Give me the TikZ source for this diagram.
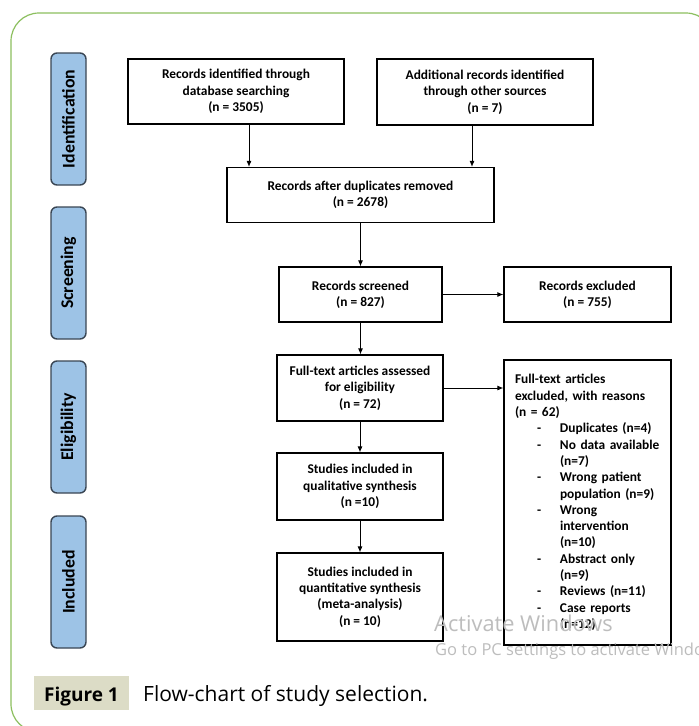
\documentclass[tikz,border=0pt]{standalone}
\usepackage{fontspec}
\setmainfont{Carlito}
\newfontfamily\capfont{Open Sans}
\usetikzlibrary{arrows.meta,positioning,calc}
\definecolor{framegreen}{HTML}{8CBF5F}
\definecolor{phaseblue}{HTML}{9DC3E6}
\definecolor{phaseline}{HTML}{3A4654}
\definecolor{capbg}{HTML}{DCDCC6}
\definecolor{wmgray}{HTML}{BDBDBD}
\tikzset{
  flowbox/.style={draw=black, line width=1.1pt, align=center, font=\fontsize{13.4}{16.3}\selectfont\bfseries, inner sep=0pt},
  phasebox/.style={draw=phaseline, line width=1.4pt, fill=phaseblue, rounded corners=6pt, rotate=90, minimum width=132pt, minimum height=35pt, inner sep=0pt, font=\fontsize{17.8}{20}\selectfont\bfseries},
  arr/.style={line width=1pt, -{Latex[length=6pt,width=5pt]}},
}
\begin{document}
\begin{tikzpicture}[x=1pt,y=-1pt]
\useasboundingbox (0,0) rectangle (699,726);
\fill[white] (0,0) rectangle (699,726);
% frame
\draw[framegreen, line width=1.2pt, rounded corners=28pt] (11,13) rectangle (714,732);
% phase labels
\node[phasebox] (ph1) at (68.5,119) {Identification};
\node[phasebox] (ph2) at (68.5,273) {Screening};
\node[phasebox] (ph3) at (68.5,427) {Eligibility};
\node[phasebox] (ph4) at (68.5,582) {Included};
% boxes
\node[flowbox, minimum width=216pt, minimum height=65pt] (b1) at (236,91.5) {Records identified through\\database searching\\(n = 3505)};
\node[flowbox, minimum width=216pt, minimum height=66pt] (b2) at (485,92) {Additional records identified\\through other sources\\(n = 7)};
\node[flowbox, minimum width=267pt, minimum height=55pt] (b3) at (360.5,195) {Records after duplicates removed\\(n = 2678)};
\node[flowbox, minimum width=163pt, minimum height=55pt] (b4) at (360.5,294.5) {Records screened\\(n = 827)};
\node[flowbox, minimum width=167pt, minimum height=55pt] (b5) at (587.5,294.5) {Records excluded\\(n = 755)};
\node[flowbox, minimum width=166pt, minimum height=66pt] (b6) at (360,388) {Full-text articles assessed\\for eligibility\\(n = 72)};
\node[flowbox, minimum width=166pt, minimum height=67pt] (b8) at (360,486.5) {Studies included in\\qualitative synthesis\\(n =10)};
\node[flowbox, minimum width=166pt, minimum height=88pt] (b9) at (360,597) {Studies included in\\quantitative synthesis\\(meta-analysis)\\(n = 10)};
\node[flowbox, minimum width=167pt, minimum height=285pt, align=left, text width=145pt] (b7) at (587.5,502.5) {Full-text articles\\
excluded, with reasons\\
(n = 62)\\
\hspace*{22pt}\makebox[23pt][l]{-}Duplicates (n=4)\\
\hspace*{22pt}\makebox[23pt][l]{-}No data available\\
\hspace*{45pt}(n=7)\\
\hspace*{22pt}\makebox[23pt][l]{-}Wrong patient\\
\hspace*{45pt}population (n=9)\\
\hspace*{22pt}\makebox[23pt][l]{-}Wrong\\
\hspace*{45pt}intervention\\
\hspace*{45pt}(n=10)\\
\hspace*{22pt}\makebox[23pt][l]{-}Abstract only\\
\hspace*{45pt}(n=9)\\
\hspace*{22pt}\makebox[23pt][l]{-}Reviews (n=11)\\
\hspace*{22pt}\makebox[23pt][l]{-}Case reports\\
\hspace*{45pt}(n=12)};
% arrows
\draw[arr] ([xshift=13pt]b1.south) -- ([xshift=13pt]b1.south |- b3.north);
\draw[arr] ([xshift=-13pt]b2.south) -- ([xshift=-13pt]b2.south |- b3.north);
\draw[arr] (b3.south) -- (b3.south |- b4.north);
\draw[arr] (b4.east) -- (b4.east -| b5.west);
\draw[arr] (b4.south) -- (b4.south |- b6.north);
\draw[arr] (b6.east) -- (b6.east -| b7.west);
\draw[arr] (b6.south) -- (b6.south |- b8.north);
\draw[arr] (b8.south) -- (b8.south |- b9.north);
% watermark
\node[anchor=base west, inner sep=0pt, text=wmgray, font=\capfont\fontsize{21.8}{25}\selectfont] (wm1) at (434,631) {Activate Windows};
\node[anchor=base west, inner sep=0pt, text=wmgray, font=\capfont\fontsize{16.5}{19}\selectfont] (wm2) at (435,655) {Go to PC settings to activate Windows};
% caption
\node[fill=capbg, minimum width=95pt, minimum height=34pt, inner sep=0pt] (capbox) at (81.5,693) {};
\node[anchor=base, inner sep=0pt, font=\capfont\fontsize{19}{23}\selectfont\bfseries] (capnum) at (81.5,701) {Figure 1};
\node[anchor=base west, inner sep=0pt, font=\capfont\fontsize{21}{25}\selectfont] (captext) at (143,701) {Flow-chart of study selection.};
\end{tikzpicture}
\end{document}
